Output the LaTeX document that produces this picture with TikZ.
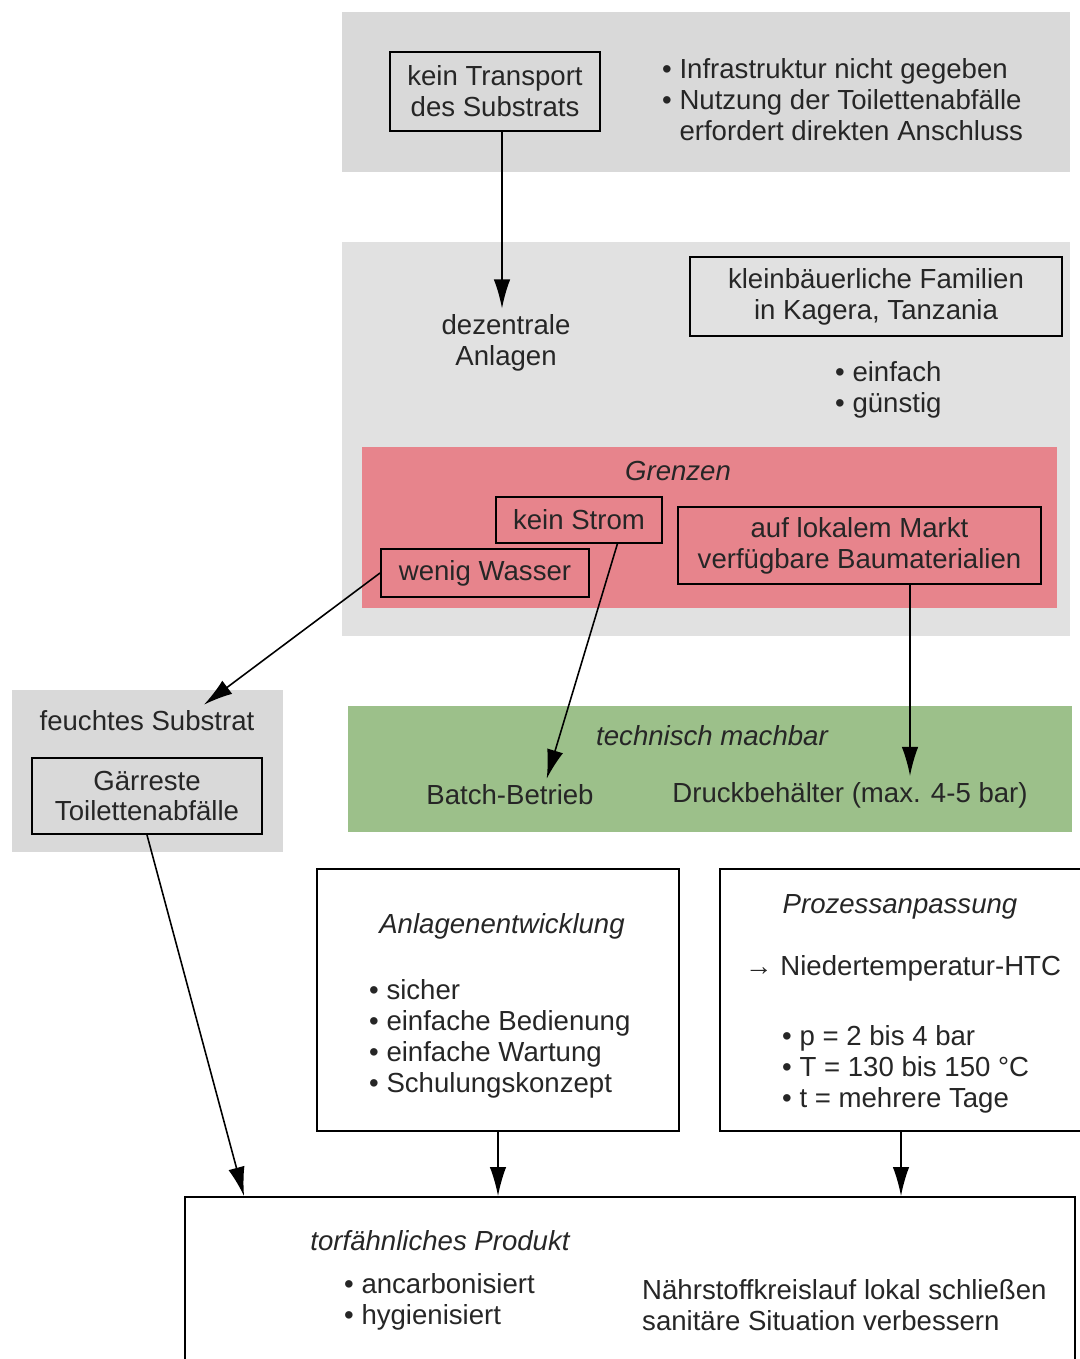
\documentclass[tikz,border=0pt]{standalone}
\usepackage{fontspec}
\setmainfont{Liberation Sans}
\usetikzlibrary{arrows.meta}

\definecolor{panelgray}{RGB}{217,217,217}
\definecolor{panellight}{RGB}{225,225,225}
\definecolor{grenzred}{RGB}{231,132,140}
\definecolor{machbargreen}{RGB}{156,192,138}

\begin{document}
\begin{tikzpicture}[x=0.2mm, y=-0.2mm,
    every node/.style={font=\fontsize{15.7}{17.6}\selectfont, text=black!85},
    box/.style={draw, line width=1.1pt, inner sep=0pt, align=center},
    arr/.style={-{Latex[length=5.8mm, width=3.3mm]}, line width=0.9pt},
    ttl/.style={font=\fontsize{15.7}{17.6}\selectfont\itshape}]
    \useasboundingbox (0,0) rectangle (1079,1359);

    % Top panel
    \fill[panelgray] (342,12) rectangle (1070,172);
    \node[box, minimum width=42mm, minimum height=15.8mm] (transp) at (495,91.5) {kein Transport\\des Substrats};
    \node[anchor=west, align=left] (infra) at (656,100) {• Infrastruktur nicht gegeben\\• Nutzung der Toilettenabfälle\\\hphantom{• }erfordert direkten Anschluss};

    % Middle panel
    \fill[panellight] (342,242) rectangle (1070,636);
    \node[align=center] (dezentral) at (506,343) {dezentrale\\Anlagen};
    \node[box, minimum width=74.4mm, minimum height=15.8mm] (familien) at (876,296.5) {kleinbäuerliche Familien\\in Kagera, Tanzania};
    \node[anchor=west, align=left] (eigensch) at (829,390) {• einfach\\• günstig};

    % Grenzen
    \fill[grenzred] (362,447) rectangle (1057,608);
    \node[ttl] (grenzen) at (678,471) {Grenzen};
    \node[box, minimum width=33.2mm, minimum height=9.2mm] (strom) at (579,520) {kein Strom};
    \node[box, minimum width=41.6mm, minimum height=9.6mm] (wasser) at (485,573) {wenig Wasser};
    \node[box, minimum width=72.6mm, minimum height=15.4mm] (markt) at (859.5,545.5) {auf lokalem Markt\\verfügbare Baumaterialien};

    % Technisch machbar
    \fill[machbargreen] (348,706) rectangle (1072,832);
    \node[ttl] (machbar) at (712,736) {technisch machbar};
    \node (batch) at (510,795) {Batch-Betrieb};
    \node (druck) at (850,795) {Druckbehälter (max. 4-5 bar)};

    % Feuchtes Substrat
    \fill[panelgray] (12,690) rectangle (283,852);
    \node (feucht) at (147,721) {feuchtes Substrat};
    \node[box, minimum width=46mm, minimum height=15.2mm] (gaer) at (147,796) {Gärreste\\Toilettenabfälle};

    % Anlagenentwicklung
    \node[box, minimum width=72.4mm, minimum height=52.4mm] (anlage) at (498,1000) {};
    \node[ttl] (anlagetitel) at (502,926) {Anlagenentwicklung};
    \node[anchor=west, align=left] (anlageliste) at (363,1039) {• sicher\\• einfache Bedienung\\• einfache Wartung\\• Schulungskonzept};

    % Prozessanpassung
    \node[box, minimum width=72.4mm, minimum height=52.4mm] (prozess) at (901,1000) {};
    \node[ttl] (prozesstitel) at (900,907) {Prozessanpassung};
    \node[anchor=west] (htc) at (739,968) {→ Niedertemperatur-HTC};
    \node[anchor=west, align=left] (prozessliste) at (776,1069) {• p = 2 bis 4 bar\\• T = 130 bis 150 °C\\• t = mehrere Tage};

    % Produkt
    \node[box, minimum width=178mm, minimum height=34.6mm] (prod) at (630,1283.5) {};
    \node[ttl] (prodtitel) at (440,1241) {torfähnliches Produkt};
    \node[anchor=west, align=left] (prodliste) at (338,1302) {• ancarbonisiert\\• hygienisiert};
    \node[anchor=west, align=left] (ziele) at (636,1305) {Nährstoffkreislauf lokal schließen\\sanitäre Situation verbessern};

    % Arrows
    \draw[arr] ([xshift=1.4mm]transp.south) -- ([xshift=1.4mm]transp.south |- dezentral.north);
    \draw[arr] (wasser.west) -- (feucht.16);
    \draw[arr] (strom.-32) -- (batch.24);
    \draw[arr] ([xshift=10.1mm]markt.south) -- ([xshift=10.1mm]markt.south |- druck.north);
    \draw[arr] (gaer.south) -- ([xshift=12mm]prod.north west);
    \draw[arr] (anlage.south) -- (anlage.south |- prod.north);
    \draw[arr] (prozess.south) -- (prozess.south |- prod.north);
\end{tikzpicture}
\end{document}
